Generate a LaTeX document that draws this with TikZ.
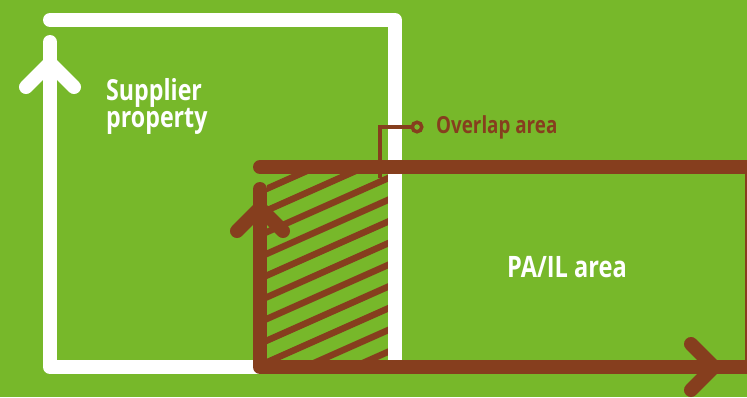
\documentclass[tikz,border=0pt]{standalone}
\usepackage{fontspec}
\usepackage{xcolor}
\usetikzlibrary{positioning}

\newfontfamily\condfont{Open Sans}[FakeStretch=0.8]

\definecolor{leafgreen}{RGB}{119,184,42}
\definecolor{barkbrown}{RGB}{134,62,30}

\tikzset{
  whiteline/.style={draw=white, line width=14pt, line cap=round, line join=round},
  brownline/.style={draw=barkbrown, line width=14pt, line cap=round, line join=round},
  hatchline/.style={draw=barkbrown, line width=6.5pt},
  leaderline/.style={draw=barkbrown, line width=3.5pt},
  bigtext/.style={inner sep=0pt, anchor=base west, text=white, font=\condfont\bfseries\fontsize{29}{26.7}\selectfont},
}

\begin{document}
\begin{tikzpicture}[x=1pt,y=-1pt]

\useasboundingbox (0,0) rectangle (747,397);
\clip (0,0) rectangle (747,397);
\fill[leafgreen] (0,0) rectangle (747,397);

% ---------- ZONA DE SOLAPE ----------

\begin{scope}
\clip (267,174) rectangle (388,360);
\draw[hatchline] (250,174.5) -- (400,107.8);
\draw[hatchline] (250,196.2) -- (400,129.5);
\draw[hatchline] (250,217.9) -- (400,151.2);
\draw[hatchline] (250,239.6) -- (400,172.9);
\draw[hatchline] (250,261.3) -- (400,194.6);
\draw[hatchline] (250,283.0) -- (400,216.3);
\draw[hatchline] (250,304.7) -- (400,238.0);
\draw[hatchline] (250,326.4) -- (400,259.7);
\draw[hatchline] (250,348.1) -- (400,281.4);
\draw[hatchline] (250,369.8) -- (400,303.1);
\draw[hatchline] (250,391.5) -- (400,324.8);
\draw[hatchline] (250,413.2) -- (400,346.5);
\draw[hatchline] (250,434.9) -- (400,368.2);
\end{scope}

% ---------- PROPIEDAD (BLANCO) ----------

\draw[whiteline] (50,42) -- (50,367) -- (395,367) -- (395,20) -- (50,20);
\draw[whiteline] (26,87) -- (50,63) -- (74,87);

% ---------- AREA PA/IL (MARRON) ----------

\draw[brownline] (260,189) -- (260,367) -- (760,367);
\draw[brownline] (260,167) -- (752,167) -- (752,367);
\draw[brownline] (237,231) -- (260,208) -- (283,231);
\draw[brownline] (691,344) -- (714,367) -- (691,390);

% ---------- ETIQUETAS ----------

\node[bigtext, align=left] (supplier) at (106,127.4) {Supplier\\property};
\node[bigtext, font=\condfont\bfseries\fontsize{29.5}{30}\selectfont] (pail) at (507,277) {PA/IL area};
\node[bigtext, text=barkbrown, font=\condfont\bfseries\fontsize{23.5}{28}\selectfont] (overlap) at (436,133.3) {Overlap area};

\node[circle, draw=barkbrown, line width=3.5pt, fill=leafgreen, minimum size=9.5pt, inner sep=0pt] (dot) at (417,127) {};
\coordinate (ovlfoot) at (380,178);
\draw[leaderline] (ovlfoot) |- (dot.west);

\end{tikzpicture}
\end{document}
